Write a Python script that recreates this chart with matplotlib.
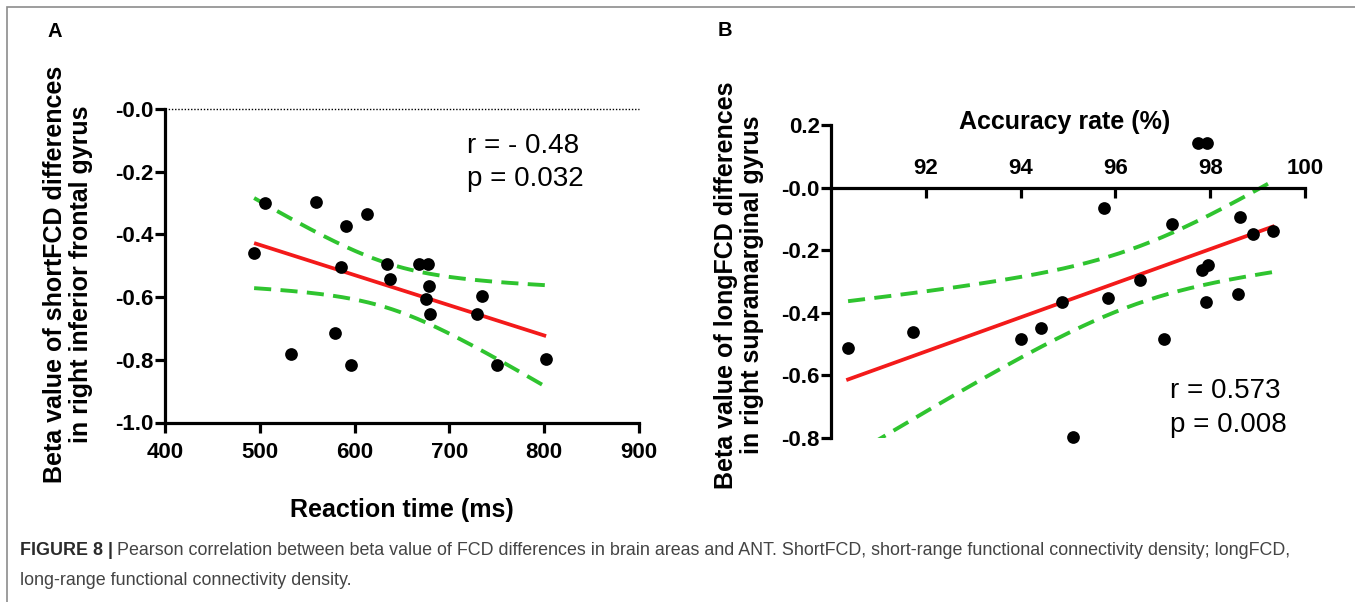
import numpy as np
import matplotlib
matplotlib.use("Agg")
import matplotlib.pyplot as plt
from matplotlib import font_manager
from matplotlib.patches import Rectangle

# ---------------- data ----------------
rt_ms = [494, 506, 559, 613, 591, 586, 634, 637, 668, 677, 679, 675, 680,
         734, 729, 579, 533, 596, 750, 802]
beta_short = [-0.459, -0.299, -0.296, -0.334, -0.372, -0.504, -0.494, -0.543,
              -0.494, -0.494, -0.566, -0.607, -0.654, -0.596, -0.654, -0.715,
              -0.781, -0.816, -0.816, -0.797]

acc_pct = [90.36, 91.72, 94.00, 94.44, 94.87, 95.75, 95.84, 95.11, 96.51,
           97.02, 97.20, 97.75, 97.93, 97.82, 97.95, 97.91, 98.62, 98.58,
           98.91, 99.32]
beta_long = [-0.511, -0.462, -0.484, -0.448, -0.367, -0.066, -0.353, -0.796,
             -0.295, -0.484, -0.115, 0.143, 0.143, -0.263, -0.247, -0.367,
             -0.095, -0.340, -0.149, -0.140]

xticks_a = [400, 500, 600, 700, 800, 900]
yticks_a = [0.0, -0.2, -0.4, -0.6, -0.8, -1.0]
yticklabels_a = ["-0.0", "-0.2", "-0.4", "-0.6", "-0.8", "-1.0"]
xticks_b = [92, 94, 96, 98, 100]
yticks_b = [0.2, 0.0, -0.2, -0.4, -0.6, -0.8]
yticklabels_b = ["0.2", "-0.0", "-0.2", "-0.4", "-0.6", "-0.8"]

stats_a = ["r = - 0.48", "p = 0.032"]
stats_b = ["r = 0.573", "p = 0.008"]
T_CRIT_DF18 = 2.1009  # two-sided 95% t critical value, df = n - 2 = 18

# ---------------- style ----------------
names = {f.name for f in font_manager.fontManager.ttflist}
FONT = "Liberation Sans" if "Liberation Sans" in names else "DejaVu Sans"
plt.rcParams["font.family"] = [FONT, "DejaVu Sans"]

W, H = 1355, 602
fig = plt.figure(figsize=(W / 100, H / 100), dpi=100)


def px(x, y):
    return x / W, 1 - y / H


def fit_and_ci(x, y):
    x = np.asarray(x, float)
    y = np.asarray(y, float)
    n = len(x)
    b, a = np.polyfit(x, y, 1)
    xs = np.linspace(x.min(), x.max(), 200)
    ys = a + b * xs
    resid = y - (a + b * x)
    s = np.sqrt(np.sum(resid ** 2) / (n - 2))
    sxx = np.sum((x - x.mean()) ** 2)
    se = s * np.sqrt(1 / n + (xs - x.mean()) ** 2 / sxx)
    return xs, ys, ys - T_CRIT_DF18 * se, ys + T_CRIT_DF18 * se


RED = "#f31a1a"
GREEN = "#2fc42f"
LW_AX = 2.3
DASH = (0, (4.4, 2.4))

# ---------------- panel A ----------------
axA = fig.add_axes([165 / W, 1 - 422.5 / H, 474 / W, 313.5 / H])
axA.set_xlim(400, 900)
axA.set_ylim(-1.0, 0.0)
xs, ys, lo, hi = fit_and_ci(rt_ms, beta_short)
axA.plot(xs, ys, color=RED, lw=2.7, solid_capstyle="butt", zorder=3)
axA.plot(xs, lo, color=GREEN, lw=2.8, ls=DASH, zorder=2)
axA.plot(xs, hi, color=GREEN, lw=2.8, ls=DASH, zorder=2)
axA.scatter(rt_ms, beta_short, s=84, color="black", zorder=4, clip_on=False,
            linewidths=0)
axA.axhline(0.0, color="black", lw=1.0, ls=(0, (1, 1.3)), zorder=1,
            clip_on=False)
for s in ["top", "right"]:
    axA.spines[s].set_visible(False)
for s in ["left", "bottom"]:
    axA.spines[s].set_linewidth(LW_AX)
axA.set_xticks(xticks_a)
axA.set_yticks(yticks_a)
axA.set_yticklabels(yticklabels_a)
axA.tick_params(axis="x", direction="out", length=7, width=LW_AX, pad=7,
                labelsize=16)
axA.tick_params(axis="y", direction="out", length=7, width=LW_AX, pad=1,
                labelsize=16)
for lab in axA.get_xticklabels() + axA.get_yticklabels():
    lab.set_fontweight("bold")
axA.patch.set_alpha(0)

# ---------------- panel B ----------------
axB = fig.add_axes([831 / W, 1 - 438 / H, 474 / W, 313 / H])
axB.set_xlim(90, 100)
axB.set_ylim(-0.8, 0.2)
xs, ys, lo, hi = fit_and_ci(acc_pct, beta_long)
axB.plot(xs, ys, color=RED, lw=2.7, zorder=3)
axB.plot(xs, lo, color=GREEN, lw=2.8, ls=DASH, zorder=2)
axB.plot(xs, hi, color=GREEN, lw=2.8, ls=DASH, zorder=2)
axB.scatter(acc_pct, beta_long, s=84, color="black", zorder=4, clip_on=False,
            linewidths=0)
axB.spines["right"].set_visible(False)
axB.spines["bottom"].set_visible(False)
axB.spines["top"].set_position(("data", 0.0))
axB.spines["top"].set_linewidth(LW_AX)
axB.spines["left"].set_linewidth(LW_AX)
axB.xaxis.tick_top()
axB.set_xticks(xticks_b)
axB.set_yticks(yticks_b)
axB.set_yticklabels(yticklabels_b)
axB.tick_params(axis="x", direction="in", length=7, width=LW_AX, pad=6,
                labelsize=16)
axB.tick_params(axis="y", direction="out", length=7, width=LW_AX, pad=1,
                labelsize=16)
for lab in axB.get_xticklabels() + axB.get_yticklabels():
    lab.set_fontweight("bold")
axB.patch.set_alpha(0)

# ---------------- texts ----------------
fig.text(*px(54.5, 31.5), "A", fontsize=14.5, fontweight="bold",
         ha="center", va="center")
fig.text(*px(725, 30.5), "B", fontsize=14.5, fontweight="bold",
         ha="center", va="center")

fig.text(*px(68, 274),
         "Beta value of shortFCD differences\nin right inferior frontal gyrus",
         rotation=90, fontsize=18, fontweight="bold", ha="center",
         va="center", multialignment="center", linespacing=1.12)
fig.text(*px(739, 285),
         "Beta value of longFCD differences\nin right supramarginal gyrus",
         rotation=90, fontsize=18, fontweight="bold", ha="center",
         va="center", multialignment="center", linespacing=1.08)

fig.text(*px(402, 517), "Reaction time (ms)", fontsize=18,
         fontweight="bold", ha="center", va="baseline")
fig.text(*px(1065, 129), "Accuracy rate (%)", fontsize=18,
         fontweight="bold", ha="center", va="baseline")

fig.text(*px(467, 153), stats_a[0], fontsize=20, ha="left", va="baseline")
fig.text(*px(467, 186), stats_a[1], fontsize=20, ha="left", va="baseline")
fig.text(*px(1170, 398), stats_b[0], fontsize=20, ha="left", va="baseline")
fig.text(*px(1170, 432), stats_b[1], fontsize=20, ha="left", va="baseline")

# caption
CAP_FS = 12.9
cap_bold = fig.text(*px(20, 555), "FIGURE 8 |", fontsize=CAP_FS,
                    fontweight="bold", color="#2b2b2b", va="baseline")
fig.canvas.draw()
bb = cap_bold.get_window_extent()
fig.text((bb.x1 + 4) / W, 1 - 555 / H,
         "Pearson correlation between beta value of FCD differences in brain "
         "areas and ANT. ShortFCD, short-range functional connectivity "
         "density; longFCD,",
         fontsize=CAP_FS, color="#444444", va="baseline")
fig.text(*px(20, 585), "long-range functional connectivity density.",
         fontsize=CAP_FS, color="#444444", va="baseline")

# frame (top and left edges visible)
fig.add_artist(Rectangle((7 / W, -0.1), 1.2, 1.1 - 6.5 / H,
                         transform=fig.transFigure, fill=False,
                         edgecolor="#8c8c8c", lw=1.2))

fig.savefig("out.png", dpi=100)
